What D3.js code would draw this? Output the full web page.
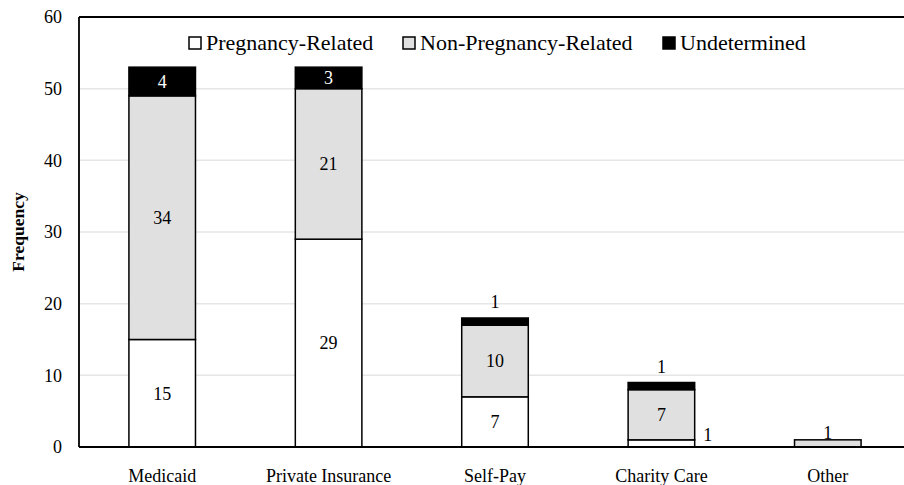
<!DOCTYPE html>
<html><head><meta charset="utf-8">
<script src="https://cdn.jsdelivr.net/npm/d3@7"></script>
<style>body{margin:0;background:#fff}svg{display:block} svg text{font-family:"Liberation Serif",serif !important}</style>
</head><body><svg id="c" width="904" height="485"></svg>
<script>
const categories = ["Medicaid","Private Insurance","Self-Pay","Charity Care","Other"];
const seriesNames = ["Pregnancy-Related","Non-Pregnancy-Related","Undetermined"];
const pregnancyRelated = [15,29,7,1,0];
const nonPregnancyRelated = [34,21,10,7,1];
const undetermined = [4,3,1,1,0];
const yTicks = [0,10,20,30,40,50,60];

const fills = ["#ffffff","#e0e0e0","#000000"];
const FONT = "Liberation Serif";
const svg = d3.select("#c");
const L=79, R=904, T=17, B=447;
const x = d3.scaleBand().domain(categories).range([L, 911]).paddingInner(0.6).paddingOuter(0.3);
const y = d3.scaleLinear().domain([0,60]).range([B,T]);

// gridlines
svg.append("g").selectAll("line").data(yTicks.filter(d=>d>0&&d<60)).join("line")
  .attr("x1",L).attr("x2",R).attr("y1",d=>y(d)).attr("y2",d=>y(d))
  .attr("stroke","#e6e6e6").attr("stroke-width",1.5);

// y axis labels
const yAxis = d3.axisLeft(y).tickValues(yTicks).tickSize(0).tickPadding(17);
const ya = svg.append("g").attr("transform",`translate(${L},0)`).call(yAxis)
  .attr("font-family",FONT).attr("font-size",18);
ya.select(".domain").remove();
ya.selectAll("text").style("font-family",FONT).attr("font-size",18).attr("fill","#000");

// stacked data
const rows = categories.map((c,i)=>({cat:c,"Pregnancy-Related":pregnancyRelated[i],"Non-Pregnancy-Related":nonPregnancyRelated[i],"Undetermined":undetermined[i]}));
const stack = d3.stack().keys(seriesNames)(rows);

stack.forEach((s,si)=>{
  svg.append("g").selectAll("rect").data(s.filter(d=>d[1]-d[0]>0)).join("rect")
    .attr("x",d=>x(d.data.cat)).attr("width",x.bandwidth())
    .attr("y",d=>y(d[1])).attr("height",d=>y(d[0])-y(d[1]))
    .attr("fill",fills[si]).attr("stroke","#000").attr("stroke-width",1.5);
});

// labels
stack.forEach((s,si)=>{
  s.forEach(d=>{
    const v=d[1]-d[0]; if(v<=0) return;
    const cx=x(d.data.cat)+x.bandwidth()/2;
    const hpx=y(d[0])-y(d[1]);
    let lx=cx, ly=(y(d[0])+y(d[1]))/2, col = si===2?"#fff":"#000";
    if(hpx<20){
      col="#000";
      if(si===2){ ly=y(d[1])-16; }
      else if(si===0){ lx=x(d.data.cat)+x.bandwidth()+13; ly=y(d[1])-5; }
      else { ly=y(d[1])-7; }
    }
    svg.append("text").attr("x",lx).attr("y",ly).attr("dy","0.35em")
      .attr("text-anchor","middle").style("font-family",FONT).attr("font-size",18).attr("fill",col).text(v);
  });
});

// axis lines & frame
svg.append("line").attr("x1",L).attr("x2",R).attr("y1",B).attr("y2",B).attr("stroke","#000").attr("stroke-width",1.8);
svg.append("line").attr("x1",L).attr("x2",L).attr("y1",T).attr("y2",B).attr("stroke","#000").attr("stroke-width",1.8);
svg.append("line").attr("x1",L).attr("x2",R).attr("y1",T).attr("y2",T).attr("stroke","#000").attr("stroke-width",1.8);

// x category labels
const xAxis = d3.axisBottom(x).tickSize(0).tickPadding(0);
const xa = svg.append("g").attr("transform",`translate(0,${B})`).call(xAxis)
  .attr("font-family",FONT).attr("font-size",18);
xa.select(".domain").remove();
xa.selectAll("text").style("font-family",FONT).attr("font-size",18).attr("fill","#000").attr("dy",null).attr("y",35);

// y title
svg.append("text").attr("transform","translate(24,232) rotate(-90)").attr("text-anchor","middle")
  .style("font-family",FONT).attr("font-size",17.5).attr("font-weight","bold").text("Frequency");

// legend
const legX=[189,403,663];
seriesNames.forEach((n,i)=>{
  svg.append("rect").attr("x",legX[i]).attr("y",37).attr("width",12).attr("height",12)
    .attr("fill",fills[i]).attr("stroke","#000").attr("stroke-width",1.5);
  svg.append("text").attr("x",legX[i]+17).attr("y",50).style("font-family",FONT).attr("font-size",22).text(n);
});
</script></body></html>
